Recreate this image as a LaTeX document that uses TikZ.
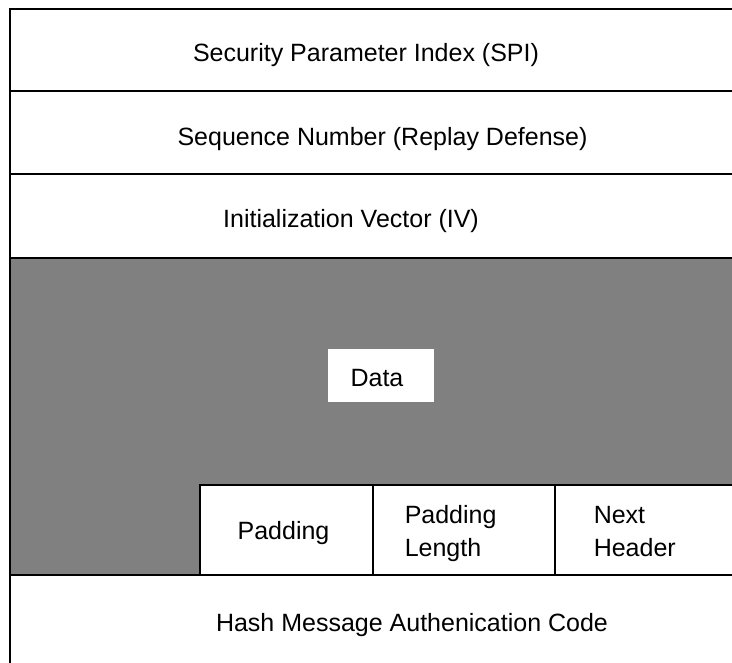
\documentclass[tikz,border=0pt]{standalone}
\usepackage{fontspec}
\setmainfont{Liberation Sans}
\usetikzlibrary{positioning}

\begin{document}
\begin{tikzpicture}[x=1pt,y=-1pt,line width=1.5pt,
  font=\fontsize{25}{33}\selectfont,
  field/.style={draw, inner sep=0pt, outer sep=0pt, minimum width=735pt},
  cell/.style={draw, fill=white, inner sep=0pt, outer sep=0pt, minimum height=90pt},
  caption/.style={inner sep=0pt, anchor=base}]
  \useasboundingbox (0,0) rectangle (732,663);
  % header rows
  \node[field, minimum height=82pt, anchor=north west] (spi) at (10,9) {};
  \node[field, minimum height=83pt, below=0pt of spi] (seq) {};
  \node[field, minimum height=84pt, below=0pt of seq] (iv) {};
  \node[field, fill=gray, minimum height=317pt, below=0pt of iv] (payload) {};
  \node[field, minimum height=100pt, below=0pt of payload] (hmac) {};
  % trailer
  \node[cell, minimum width=173pt, anchor=south west] (pad) at (200,575) {};
  \node[cell, minimum width=182pt, right=0pt of pad] (padlen) {};
  \node[cell, minimum width=190pt, right=0pt of padlen] (next) {};
  \node[fill=white, inner sep=0pt, minimum width=106pt, minimum height=53pt] (databox) at (381,375.5) {};
  % texts
  \node[caption] (spi text) at (366,62) {Security Parameter Index (SPI)};
  \node[caption] (seq text) at (382.5,146) {Sequence Number (Replay Defense)};
  \node[caption] (iv text) at (351,228) {Initialization Vector (IV)};
  \node[caption] (data text) at (377,386.7) {Data};
  \node[caption] (pad text) at (283.5,539) {Padding};
  \node[caption, anchor=base west, align=left] (padlen text) at (404,556) {Padding\\Length};
  \node[caption, anchor=base west, align=left] (next text) at (593,556) {Next\\Header};
  \node[caption] (hmac text) at (412,631.7) {Hash Message Authenication Code};
\end{tikzpicture}
\end{document}
